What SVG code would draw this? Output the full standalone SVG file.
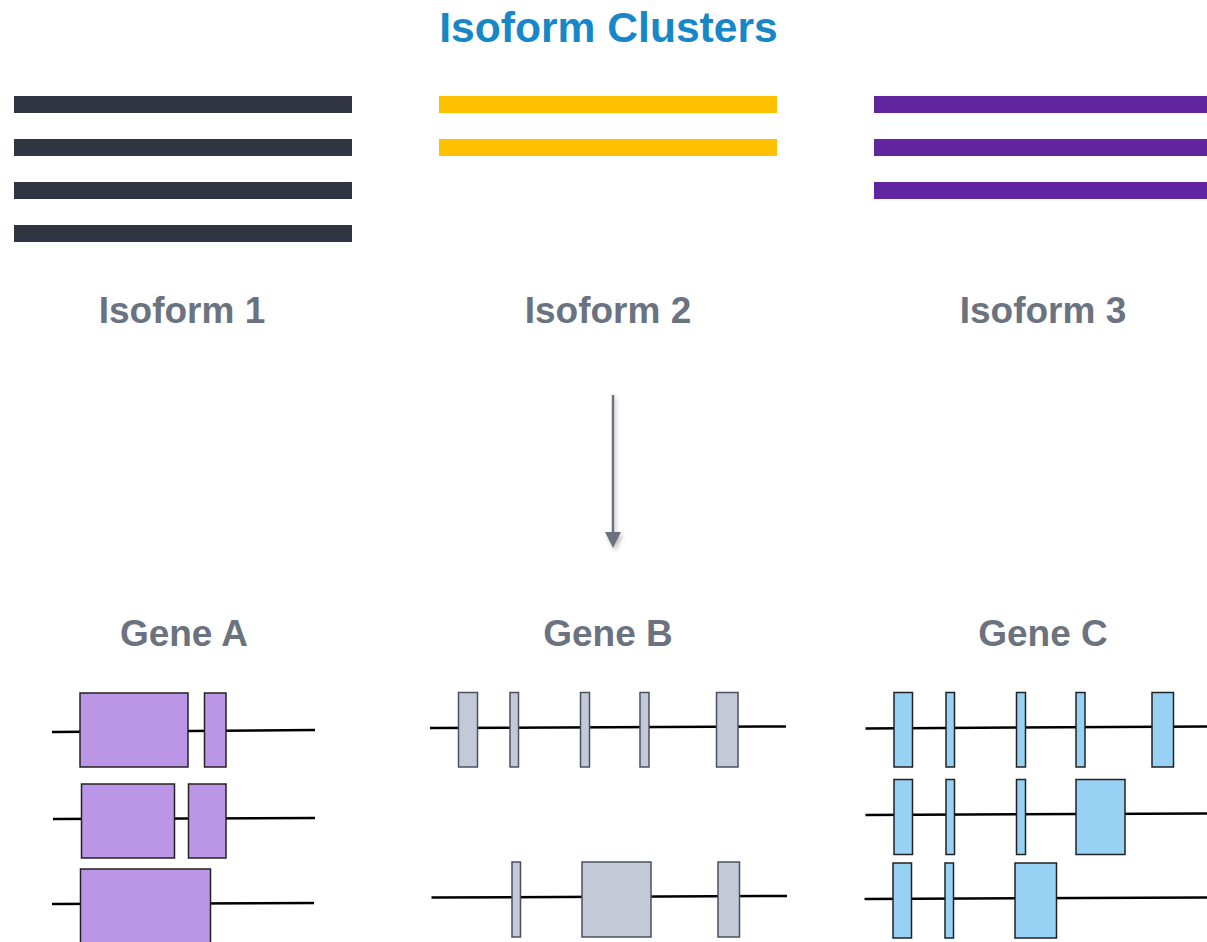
<svg xmlns="http://www.w3.org/2000/svg" width="1207" height="942" viewBox="0 0 1207 942">
<style>
.title{font-family:"Liberation Sans",Arial,sans-serif;font-weight:bold;font-size:42.6px;fill:#1787c8;text-anchor:middle}
.lbl{font-family:"Liberation Sans",Arial,sans-serif;font-weight:bold;font-size:37px;fill:#6b7280;text-anchor:middle}
.ln{stroke:#000;stroke-width:2.5;fill:none}
.a{fill:#bc96e6;stroke:#222;stroke-width:1.5}
.b{fill:#c3c9d6;stroke:#4b5060;stroke-width:1.5}
.c{fill:#97d1f4;stroke:#222;stroke-width:1.5}
</style>
<defs>
<filter id="sh" x="-50%" y="-10%" width="200%" height="120%">
<feDropShadow dx="2" dy="3" stdDeviation="2" flood-color="#000" flood-opacity="0.25"/>
</filter>
</defs>
<rect width="1207" height="942" fill="#fff"/>
<text class="title" x="608.5" y="42">Isoform Clusters</text>

<g id="isoform1">
<rect x="14" y="96" width="338" height="17" fill="#313441"/>
<rect x="14" y="139" width="338" height="17" fill="#313441"/>
<rect x="14" y="182" width="338" height="17" fill="#313441"/>
<rect x="14" y="225" width="338" height="17" fill="#313441"/>
<text class="lbl" x="182" y="323">Isoform 1</text>
</g>
<g id="isoform2">
<rect x="439" y="96" width="338" height="17" fill="#ffc000"/>
<rect x="439" y="139" width="338" height="17" fill="#ffc000"/>
<text class="lbl" x="608" y="323">Isoform 2</text>
</g>
<g id="isoform3">
<rect x="874" y="96" width="340" height="17" fill="#6225a0"/>
<rect x="874" y="139" width="340" height="17" fill="#6225a0"/>
<rect x="874" y="182" width="340" height="17" fill="#6225a0"/>
<text class="lbl" x="1043" y="323">Isoform 3</text>
</g>

<g id="connectors">
<g filter="url(#sh)">
<line x1="613" y1="395" x2="613" y2="538" stroke="#6b7280" stroke-width="2.5"/>
<path d="M605,532 L621,532 L613,548 z" fill="#6b7280"/>
</g>
</g>

<g id="geneA">
<text class="lbl" x="184" y="646">Gene A</text>
<line class="ln" x1="52" y1="732" x2="315" y2="730"/>
<rect class="a" x="80" y="693" width="108" height="74"/>
<rect class="a" x="204.5" y="693" width="21.5" height="74"/>
<line class="ln" x1="53" y1="819" x2="315" y2="818"/>
<rect class="a" x="81.5" y="784" width="93" height="74"/>
<rect class="a" x="188.5" y="784" width="37.5" height="74"/>
<line class="ln" x1="52" y1="904" x2="314" y2="903"/>
<rect class="a" x="80.5" y="869" width="130" height="80"/>
</g>

<g id="geneB">
<text class="lbl" x="608" y="646">Gene B</text>
<line class="ln" x1="430" y1="728" x2="786" y2="726.5"/>
<rect class="b" x="458.5" y="692.5" width="19" height="74.5"/>
<rect class="b" x="510" y="692.5" width="8.5" height="74.5"/>
<rect class="b" x="580.5" y="692.5" width="9" height="74.5"/>
<rect class="b" x="640" y="692.5" width="9" height="74.5"/>
<rect class="b" x="716.5" y="692.5" width="21.5" height="74.5"/>
<line class="ln" x1="431.5" y1="897.5" x2="787" y2="896"/>
<rect class="b" x="512" y="862" width="8.5" height="75"/>
<rect class="b" x="582" y="862" width="69" height="75"/>
<rect class="b" x="718" y="862" width="21.5" height="75"/>
</g>

<g id="geneC">
<text class="lbl" x="1043" y="646">Gene C</text>
<line class="ln" x1="865.5" y1="728.5" x2="1207" y2="726.5"/>
<rect class="c" x="894" y="692.5" width="18.5" height="74.5"/>
<rect class="c" x="946" y="692.5" width="8.5" height="74.5"/>
<rect class="c" x="1016.5" y="692.5" width="9" height="74.5"/>
<rect class="c" x="1076" y="692.5" width="9" height="74.5"/>
<rect class="c" x="1152" y="692.5" width="21.5" height="74.5"/>
<line class="ln" x1="865.5" y1="815" x2="1207" y2="813.5"/>
<rect class="c" x="894" y="779.5" width="18.5" height="75"/>
<rect class="c" x="946" y="779.5" width="8.5" height="75"/>
<rect class="c" x="1016.5" y="779.5" width="9" height="75"/>
<rect class="c" x="1076" y="779.5" width="49" height="75"/>
<line class="ln" x1="864.5" y1="899" x2="1207" y2="897.5"/>
<rect class="c" x="893" y="863" width="18.5" height="75"/>
<rect class="c" x="945" y="863" width="8.5" height="75"/>
<rect class="c" x="1015" y="863" width="41.5" height="75"/>
</g>
</svg>
